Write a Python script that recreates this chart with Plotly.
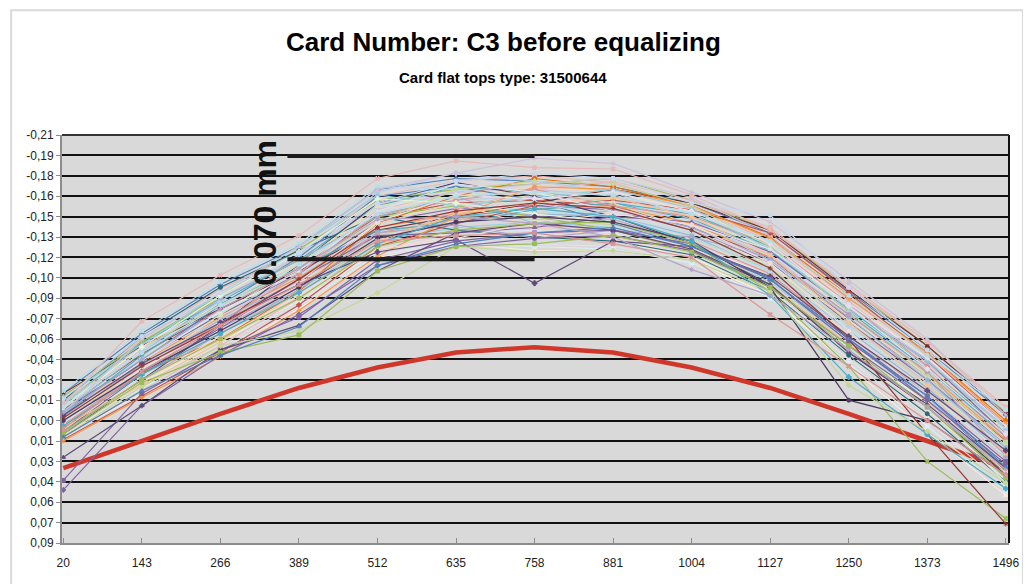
import plotly.graph_objects as go

positions = [20, 143, 266, 389, 512, 635, 758, 881, 1004, 1127, 1250, 1373, 1496]

y_tickvals = [-0.21, -0.195, -0.18, -0.165, -0.15, -0.135, -0.12, -0.105, -0.09, -0.075, -0.06,
              -0.045, -0.03, -0.015, 0.0, 0.015, 0.03, 0.045, 0.06, 0.075, 0.09]
y_ticktext = ["-0,21", "-0,19", "-0,18", "-0,16", "-0,15", "-0,13", "-0,12", "-0,10", "-0,09", "-0,07", "-0,06",
              "-0,04", "-0,03", "-0,01", "0,00", "0,01", "0,03", "0,04", "0,06", "0,07", "0,09"]

reference_curve = [0.035, 0.015, -0.005, -0.024, -0.039, -0.050, -0.054, -0.050, -0.039, -0.024, -0.005, 0.015, 0.035]

r01 = [-0.020, -0.064, -0.100, -0.128, -0.170, -0.178, -0.176, -0.172, -0.160, -0.138, -0.095, -0.052, -0.004]
r02 = [-0.018, -0.060, -0.097, -0.124, -0.165, -0.176, -0.180, -0.175, -0.157, -0.132, -0.090, -0.048, 0.002]
r03 = [-0.016, -0.058, -0.092, -0.126, -0.162, -0.170, -0.174, -0.178, -0.162, -0.140, -0.098, -0.055, -0.006]
r04 = [-0.014, -0.055, -0.090, -0.120, -0.160, -0.168, -0.170, -0.165, -0.150, -0.128, -0.085, -0.045, 0.005]
r05 = [-0.012, -0.057, -0.088, -0.118, -0.158, -0.172, -0.168, -0.160, -0.148, -0.125, -0.082, -0.040, 0.010]
r06 = [-0.010, -0.052, -0.086, -0.116, -0.155, -0.165, -0.172, -0.168, -0.155, -0.130, -0.088, -0.046, 0.000]
r07 = [-0.011, -0.050, -0.084, -0.115, -0.152, -0.162, -0.165, -0.162, -0.145, -0.122, -0.078, -0.036, 0.012]
r08 = [-0.008, -0.049, -0.082, -0.112, -0.150, -0.160, -0.162, -0.158, -0.142, -0.120, -0.075, -0.032, 0.015]
r09 = [-0.009, -0.047, -0.080, -0.110, -0.148, -0.158, -0.166, -0.163, -0.150, -0.126, -0.084, -0.040, 0.008]
r10 = [-0.006, -0.045, -0.078, -0.108, -0.146, -0.156, -0.158, -0.155, -0.140, -0.116, -0.072, -0.030, 0.018]
r11 = [-0.005, -0.046, -0.080, -0.106, -0.144, -0.160, -0.154, -0.150, -0.138, -0.112, -0.068, -0.026, 0.022]
r12 = [-0.004, -0.043, -0.076, -0.105, -0.142, -0.152, -0.156, -0.158, -0.145, -0.120, -0.078, -0.035, 0.014]
r13 = [-0.003, -0.041, -0.074, -0.103, -0.140, -0.150, -0.152, -0.150, -0.136, -0.110, -0.066, -0.024, 0.025]
r14 = [-0.002, -0.040, -0.072, -0.102, -0.138, -0.148, -0.150, -0.146, -0.132, -0.108, -0.062, -0.020, 0.028]
r15 = [-0.001, -0.038, -0.070, -0.100, -0.136, -0.150, -0.148, -0.144, -0.134, -0.112, -0.070, -0.028, 0.020]
r16 = [0.000, -0.037, -0.068, -0.098, -0.134, -0.146, -0.150, -0.148, -0.130, -0.104, -0.060, -0.018, 0.030]
r17 = [0.001, -0.035, -0.066, -0.096, -0.132, -0.142, -0.146, -0.142, -0.128, -0.102, -0.058, -0.016, 0.032]
r18 = [0.002, -0.034, -0.064, -0.094, -0.130, -0.140, -0.144, -0.140, -0.126, -0.100, -0.056, -0.014, 0.034]
r19 = [0.003, -0.032, -0.062, -0.092, -0.128, -0.138, -0.140, -0.138, -0.124, -0.098, -0.054, -0.012, 0.036]
r20 = [0.004, -0.030, -0.060, -0.090, -0.126, -0.136, -0.138, -0.134, -0.122, -0.096, -0.050, -0.008, 0.040]
r21 = [0.006, -0.028, -0.058, -0.088, -0.124, -0.134, -0.136, -0.132, -0.120, -0.094, -0.048, -0.004, 0.044]
r22 = [0.008, -0.026, -0.056, -0.086, -0.122, -0.132, -0.130, -0.128, -0.118, -0.092, -0.045, 0.000, 0.048]
r23 = [0.010, -0.024, -0.052, -0.084, -0.122, -0.130, -0.128, -0.126, -0.116, -0.090, -0.042, 0.004, 0.052]
r24 = [0.012, -0.020, -0.050, -0.082, -0.120, -0.130, -0.125, -0.125, -0.118, -0.092, -0.040, 0.008, 0.055]
r25 = [-0.020, -0.055, -0.082, -0.110, -0.140, -0.150, -0.160, -0.170, -0.160, -0.140, -0.096, -0.055, -0.005]
r26 = [0.010, -0.030, -0.070, -0.115, -0.160, -0.175, -0.165, -0.150, -0.130, -0.100, -0.050, -0.010, 0.040]
r27 = [-0.015, -0.062, -0.098, -0.125, -0.150, -0.140, -0.135, -0.132, -0.122, -0.095, -0.048, -0.005, 0.045]
r28 = [0.005, -0.035, -0.060, -0.095, -0.145, -0.165, -0.178, -0.172, -0.158, -0.135, -0.092, -0.050, 0.000]
r29 = [-0.008, -0.044, -0.085, -0.120, -0.165, -0.172, -0.162, -0.145, -0.128, -0.105, -0.060, -0.015, 0.035]
r30 = [0.012, -0.022, -0.055, -0.090, -0.130, -0.155, -0.170, -0.176, -0.162, -0.142, -0.098, -0.058, -0.008]
r31 = [-0.018, -0.058, -0.090, -0.118, -0.150, -0.158, -0.150, -0.140, -0.125, -0.100, -0.052, -0.010, 0.038]
r32 = [0.000, -0.040, -0.075, -0.108, -0.155, -0.168, -0.174, -0.178, -0.164, -0.136, -0.088, -0.042, 0.006]
r33 = [-0.004, -0.048, -0.086, -0.112, -0.140, -0.145, -0.155, -0.160, -0.152, -0.128, -0.080, -0.038, 0.012]
r34 = [0.006, -0.028, -0.062, -0.100, -0.145, -0.160, -0.142, -0.136, -0.126, -0.104, -0.064, -0.022, 0.030]
r35 = [-0.012, -0.052, -0.088, -0.122, -0.168, -0.182, -0.176, -0.168, -0.148, -0.118, -0.070, -0.028, 0.018]
r36 = [0.014, -0.018, -0.050, -0.085, -0.128, -0.145, -0.158, -0.162, -0.155, -0.138, -0.094, -0.048, 0.004]
r37 = [-0.002, -0.038, -0.078, -0.115, -0.158, -0.164, -0.168, -0.160, -0.140, -0.115, -0.074, -0.032, 0.016]
r38 = [0.008, -0.034, -0.068, -0.104, -0.136, -0.138, -0.142, -0.150, -0.146, -0.124, -0.082, -0.044, 0.010]
r39 = [-0.022, -0.066, -0.102, -0.130, -0.172, -0.170, -0.160, -0.150, -0.135, -0.110, -0.065, -0.020, 0.028]
r40 = [0.015, -0.017, -0.047, -0.081, -0.121, -0.150, -0.172, -0.170, -0.158, -0.134, -0.090, -0.050, 0.002]
r41 = [-0.007, -0.050, -0.090, -0.118, -0.150, -0.165, -0.145, -0.155, -0.142, -0.118, -0.076, -0.030, 0.020]
r42 = [0.003, -0.036, -0.072, -0.108, -0.152, -0.162, -0.170, -0.158, -0.150, -0.130, -0.086, -0.040, 0.012]
r43 = [-0.013, -0.054, -0.085, -0.112, -0.146, -0.170, -0.176, -0.174, -0.158, -0.128, -0.080, -0.034, 0.016]
r44 = [0.009, -0.030, -0.064, -0.096, -0.138, -0.144, -0.134, -0.140, -0.135, -0.120, -0.078, -0.036, 0.026]
r45 = [-0.017, -0.056, -0.094, -0.128, -0.166, -0.158, -0.164, -0.170, -0.156, -0.126, -0.082, -0.044, 0.006]
r46 = [0.004, -0.026, -0.058, -0.094, -0.132, -0.152, -0.160, -0.164, -0.150, -0.122, -0.072, -0.026, 0.024]
r47 = [-0.001, -0.044, -0.080, -0.110, -0.154, -0.174, -0.168, -0.154, -0.144, -0.126, -0.086, -0.046, 0.004]
r48 = [0.011, -0.028, -0.060, -0.092, -0.126, -0.134, -0.146, -0.152, -0.144, -0.116, -0.066, -0.016, 0.038]
r49 = [-0.010, -0.054, -0.092, -0.124, -0.163, -0.160, -0.152, -0.146, -0.130, -0.106, -0.058, -0.012, 0.046]
r50 = [0.002, -0.038, -0.070, -0.102, -0.146, -0.166, -0.163, -0.168, -0.154, -0.130, -0.084, -0.038, 0.010]
o01 = [-0.012, -0.073, -0.107, -0.136, -0.178, -0.191, -0.186, -0.185, -0.166, -0.140, -0.100, -0.058, -0.010]
o02 = [-0.006, -0.060, -0.094, -0.128, -0.170, -0.182, -0.193, -0.189, -0.168, -0.146, -0.103, -0.060, -0.004]
o03 = [-0.016, -0.062, -0.094, -0.124, -0.160, -0.176, -0.182, -0.178, -0.160, -0.151, -0.098, -0.052, -0.008]
o04 = [-0.004, -0.042, -0.072, -0.100, -0.124, -0.133, -0.101, -0.132, -0.128, -0.106, -0.062, -0.022, 0.022]
o05 = [0.051, -0.011, -0.048, -0.078, -0.114, -0.128, -0.134, -0.136, -0.125, -0.098, -0.055, -0.015, 0.032]
o06 = [0.044, -0.020, -0.052, -0.076, -0.118, -0.132, -0.138, -0.140, -0.130, -0.104, -0.058, -0.018, 0.030]
o07 = [0.027, -0.011, -0.052, -0.070, -0.110, -0.138, -0.145, -0.140, -0.126, -0.100, -0.050, -0.012, 0.035]
o08 = [0.008, -0.030, -0.060, -0.090, -0.128, -0.140, -0.145, -0.146, -0.130, -0.095, -0.040, 0.030, 0.072]
o09 = [-0.002, -0.040, -0.070, -0.104, -0.142, -0.154, -0.160, -0.156, -0.140, -0.112, -0.060, 0.010, 0.076]
o10 = [0.000, -0.036, -0.066, -0.098, -0.134, -0.146, -0.150, -0.146, -0.132, -0.098, -0.015, 0.000, 0.040]
o11 = [0.004, -0.034, -0.064, -0.094, -0.130, -0.150, -0.156, -0.150, -0.132, -0.092, -0.032, 0.010, 0.050]
o12 = [0.012, -0.025, -0.055, -0.066, -0.094, -0.128, -0.124, -0.125, -0.118, -0.095, -0.026, 0.008, 0.046]
o13 = [0.010, -0.028, -0.050, -0.063, -0.110, -0.128, -0.130, -0.136, -0.124, -0.098, -0.055, -0.010, 0.042]
o14 = [0.012, -0.022, -0.048, -0.069, -0.114, -0.130, -0.138, -0.142, -0.128, -0.104, -0.060, -0.018, 0.034]
o15 = [0.006, -0.036, -0.070, -0.100, -0.132, -0.136, -0.138, -0.130, -0.120, -0.078, -0.040, 0.000, 0.040]
o16 = [-0.006, -0.045, -0.082, -0.112, -0.148, -0.150, -0.145, -0.135, -0.111, -0.092, -0.052, -0.010, 0.036]
o17 = [-0.010, -0.050, -0.085, -0.115, -0.152, -0.165, -0.168, -0.166, -0.152, -0.132, -0.092, -0.048, -0.008]

measurements = [r01, r02, r03, r04, r05, r06, r07, r08, r09, r10, r11, r12, r13, r14, r15, r16, r17, r18, r19,
                r20, r21, r22, r23, r24, r25, r26, r27, r28, r29, r30, r31, r32, r33, r34, r35, r36, r37, r38,
                r39, r40, r41, r42, r43, r44, r45, r46, r47, r48, r49, r50]
outliers = [o01, o02, o03, o04, o05, o06, o07, o08, o09, o10, o11, o12, o13, o14, o15, o16, o17]

palette = ["#4F81BD", "#E6B9B8", "#9BBB59", "#CCC1DA", "#4BACC6", "#FCD5B5",
           "#B9CDE5", "#C0504D", "#D7E4BD", "#8064A2", "#B7DEE8", "#F79646",
           "#95B3D7", "#D99694", "#C3D69B", "#B3A2C7", "#93CDDD", "#FAC090",
           "#DCE6F2", "#F2DCDB", "#EBF1DE", "#E6E0EC", "#DBEEF4", "#FDEADA",
           "#772C2A", "#4D3B62", "#276A7C", "#E46C0A"]
outlier_colors = ["#E6B9B8", "#CCC1DA", "#C6D9F1", "#604A7B", "#8064A2", "#8064A2", "#604A7B",
                  "#9BBB59", "#953735", "#4D3B62", "#4BACC6", "#C3D69B", "#9BBB59", "#4F81BD",
                  "#D99694", "#B3A2C7", "#B7DEE8"]
symbols = ["diamond", "square", "triangle-up", "x", "asterisk", "circle", "cross"]

fig = go.Figure()

fig.add_trace(go.Scatter(x=positions, y=reference_curve, mode="lines",
                         line=dict(color="#D0372B", width=4.5), showlegend=False, hoverinfo="skip"))

for i, s in enumerate(measurements):
    c = palette[i % len(palette)]
    fig.add_trace(go.Scatter(x=positions, y=s, mode="lines+markers",
                             line=dict(color=c, width=1.1),
                             marker=dict(symbol=symbols[i % len(symbols)], size=4, color=c,
                                         line=dict(color=c, width=1)),
                             showlegend=False))
for i, s in enumerate(outliers):
    c = outlier_colors[i]
    fig.add_trace(go.Scatter(x=positions, y=s, mode="lines+markers",
                             line=dict(color=c, width=1.2),
                             marker=dict(symbol=symbols[(i + 3) % len(symbols)], size=4, color=c,
                                         line=dict(color=c, width=1)),
                             showlegend=False))

font_family = "Liberation Sans, Arial, Helvetica, sans-serif"

fig.update_layout(
    width=1023, height=576,
    margin=dict(l=54, r=20, t=127, b=41),
    paper_bgcolor="white",
    plot_bgcolor="#D9D9D9",
    font=dict(family=font_family, color="#222222", size=12),
    showlegend=False,
    xaxis=dict(range=[18, 1501], tickvals=positions, ticktext=[str(p) for p in positions],
               showgrid=False, zeroline=False, showline=True, linecolor="#8C8C8C", linewidth=2,
               ticks="inside", ticklen=5, tickcolor="#8C8C8C", tickfont=dict(size=12, color="#222222"),
               ticklabelstandoff=8, fixedrange=True),
    yaxis=dict(range=[0.09, -0.21], tickvals=y_tickvals, ticktext=y_ticktext,
               showgrid=True, gridcolor="#111111", gridwidth=1.6, zeroline=False,
               showline=True, linecolor="#8C8C8C", linewidth=2,
               ticks="outside", ticklen=4, tickcolor="#8C8C8C", tickfont=dict(size=12, color="#222222"),
               fixedrange=True),
    annotations=[
        dict(text="<b>Card Number: C3 before equalizing</b>", x=0.466, y=1.228, xref="paper", yref="paper",
             showarrow=False, font=dict(size=26, color="black", family=font_family), xanchor="center", yanchor="middle"),
        dict(text="<b>Card flat tops type: 31500644</b>", x=0.466, y=1.14, xref="paper", yref="paper",
             showarrow=False, font=dict(size=15, color="black", family=font_family), xanchor="center", yanchor="middle"),
        dict(text="<b>0.070 mm</b>", x=0.2136, y=0.81, xref="paper", yref="paper", textangle=-90,
             showarrow=False, font=dict(size=32, color="#111111", family=font_family), xanchor="center", yanchor="middle"),
    ],
    shapes=[
        dict(type="line", xref="x", yref="y", x0=371, x1=758, y0=-0.1946, y1=-0.1946,
             line=dict(color="#1A1A1A", width=4)),
        dict(type="line", xref="x", yref="y", x0=371, x1=758, y0=-0.1186, y1=-0.1186,
             line=dict(color="#1A1A1A", width=4)),
        dict(type="line", xref="paper", yref="paper", x0=1, x1=1, y0=0, y1=1,
             line=dict(color="#111111", width=2)),
        dict(type="line", xref="paper", yref="paper", x0=0, x1=1, y0=1, y1=1,
             line=dict(color="#333333", width=2)),
        dict(type="rect", xref="paper", yref="paper", x0=-0.0537, x1=1.0147, y0=-0.2, y1=1.306,
             line=dict(color="#DADADA", width=2), fillcolor="rgba(0,0,0,0)", layer="below"),
    ],
)

fig.write_html("out.html")
